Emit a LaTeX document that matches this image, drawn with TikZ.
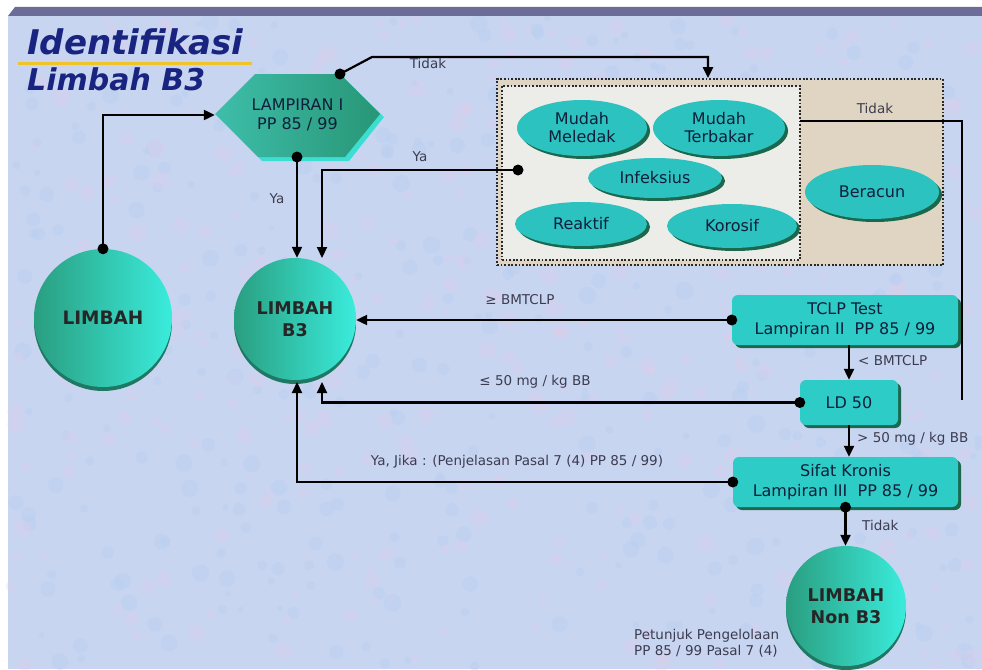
\documentclass[tikz,border=0pt]{standalone}
\usepackage{fontspec}
\setmainfont{DejaVu Sans}
\newfontfamily\titlefont{DejaVu Sans}
\usetikzlibrary{arrows.meta,shapes.geometric,shadows,calc}
\definecolor{bgc}{RGB}{200,213,240}
\definecolor{bgpink}{RGB}{226,206,234}
\definecolor{bgblue}{RGB}{180,206,242}
\definecolor{barc}{RGB}{108,108,152}
\definecolor{titc}{RGB}{24,36,128}
\definecolor{yelc}{RGB}{240,196,40}
\definecolor{boxc}{RGB}{46,204,198}
\definecolor{shc}{RGB}{28,104,78}
\definecolor{ellc}{RGB}{44,194,192}
\definecolor{ballL}{RGB}{42,158,128}
\definecolor{ballR}{RGB}{58,236,220}
\definecolor{ballS}{RGB}{30,120,100}
\definecolor{hexL}{RGB}{62,190,170}
\definecolor{hexR}{RGB}{40,150,118}
\definecolor{hexE}{RGB}{60,222,210}
\definecolor{txtc}{RGB}{16,30,60}
\definecolor{lblc}{RGB}{60,60,80}
\definecolor{panelc}{RGB}{236,236,232}
\definecolor{beigec}{RGB}{224,213,195}
\tikzset{
  conn/.style={line width=2.2pt, black, -{Triangle[length=11pt,width=10pt]}},
  plainline/.style={line width=2.2pt, black},
  dotline/.style={line width=1.8pt, draw={rgb,255:red,40;green,40;blue,40}, dash pattern=on 1.8pt off 1.8pt},
  lbl/.style={font=\fontsize{13.5}{16.5}\selectfont, text=lblc, inner sep=0pt},
  tbox/.style={rectangle, rounded corners=6pt, fill=boxc, drop shadow={shadow xshift=3pt, shadow yshift=-3pt, fill=shc, opacity=1}, font=\fontsize{16}{20}\selectfont, text=txtc, align=center, inner sep=0pt},
  ell/.style={ellipse, fill=ellc, drop shadow={shadow xshift=3pt, shadow yshift=-3pt, fill=shc, opacity=1}, font=\fontsize{16}{18}\selectfont, text=txtc, align=center, inner sep=0pt},
  ball/.style={circle, left color=ballL, right color=ballR, drop shadow={shadow xshift=0pt, shadow yshift=-4pt, fill=ballS, opacity=1}, font=\bfseries\fontsize{17.5}{22}\selectfont, text=black!85, align=center, inner sep=0pt},
  titletext/.style={anchor=base west, text=titc, inner sep=0pt},
}
\begin{document}
\begin{tikzpicture}[x=1pt,y=-1pt]
% page and background
\fill[white] (0,0) rectangle (982,669);
\useasboundingbox (0,0) rectangle (982,669);
\fill[bgc] (8,16) rectangle (982,669);
\pgfmathsetseed{11}
\foreach \i in {1,...,700}{
  \pgfmathsetmacro\px{10+970*rnd}
  \pgfmathsetmacro\py{18+650*rnd}
  \pgfmathsetmacro\pr{3+6*rnd}
  \ifodd\i
    \fill[bgpink, opacity=0.3] (\px,\py) circle (\pr);
  \else
    \fill[bgblue, opacity=0.3] (\px,\py) circle (\pr);
  \fi
}
\fill[barc] (8,16) -- (15,7) -- (982,7) -- (982,16) -- cycle;
% title
\node[titletext, font=\titlefont\bfseries\itshape\fontsize{34}{38}\selectfont] (titA) at (27,55) {Identifikasi};
\draw[line width=3pt, yelc] (18,64) -- (252,64);
\node[titletext, font=\titlefont\bfseries\itshape\fontsize{30}{34}\selectfont] (titB) at (27,90) {Limbah B3};
% dotted group
\node[dotline, fill=beigec, minimum width=446pt, minimum height=186pt, inner sep=0pt] (group) at (720,172) {};
\node[dotline, fill=panelc, minimum width=298pt, minimum height=174pt, inner sep=0pt] (panel) at (651,173) {};
\node[ell, minimum width=130pt, minimum height=56pt] (e1) at (582,128) {Mudah\\Meledak};
\node[ell, minimum width=132pt, minimum height=56pt] (e2) at (719,128) {Mudah\\Terbakar};
\node[ell, minimum width=134pt, minimum height=40pt] (e3) at (655,178) {Infeksius};
\node[ell, minimum width=132pt, minimum height=44pt] (e4) at (581,224) {Reaktif};
\node[ell, minimum width=130pt, minimum height=44pt] (e5) at (732,226) {Korosif};
\node[ell, minimum width=134pt, minimum height=54pt] (e6) at (872,192) {Beracun};
% hexagon
\fill[hexE] (219,117) -- (259,78) -- (344,78) -- (384,117) -- (349,161) -- (262,161) -- cycle;
\path[left color=hexL, right color=hexR] (215,114) -- (255,74) -- (340,74) -- (380,114) -- (345,157) -- (258,157) -- cycle;
\node[minimum width=165pt, minimum height=83pt, font=\fontsize{16}{19}\selectfont, text=txtc, align=center, inner sep=0pt] (hex) at (297.5,115) {LAMPIRAN I\\PP 85 / 99};
\coordinate (hexT) at (340,74);
\coordinate (hexB) at (297,157);
% balls
\node[ball, minimum size=138pt, font=\bfseries\fontsize{18.5}{22}\selectfont] (limbah) at (103,318) {LIMBAH};
\node[ball, minimum size=122pt] (b3) at (295,319) {LIMBAH\\B3};
\node[ball, minimum size=120pt] (nonb3) at (846,606) {LIMBAH\\Non B3};
% boxes
\node[tbox, minimum width=226pt, minimum height=50pt] (tclp) at (845,320) {TCLP Test\\Lampiran II\ \ PP 85 / 99};
\node[tbox, minimum width=98pt, minimum height=45pt] (ld) at (849,402.5) {LD 50};
\node[tbox, minimum width=225pt, minimum height=50pt] (sifat) at (845.5,482) {Sifat Kronis\\Lampiran III\ \ PP 85 / 99};
% named connector points
\coordinate (b3top2) at (322,258);
\coordinate (b3bot1) at (297,382);
\coordinate (b3bot2) at (322,382);
\coordinate (yaDot) at (518,170);
\coordinate (panelR) at (800,121);
\coordinate (tidakEnd) at (962,400);
% connectors
\fill (limbah.north) circle (5.5pt);
\draw[conn] (limbah.north) |- (hex.west);
\fill (hexT) circle (5.5pt);
\draw[conn] (hexT) -- (372,57) -- (708,57) -- (708,0 |- group.north);
\fill (hexB) circle (5.5pt);
\draw[conn] (hexB) -- (hexB |- b3.north);
\fill (yaDot) circle (5.5pt);
\draw[conn] (yaDot) -| (b3top2);
\draw[plainline] (panelR) -- (962,121) -- (tidakEnd);
\fill (tclp.west) circle (5.5pt);
\draw[conn] (tclp.west) -- (tclp.west -| b3.east);
\draw[conn] (ld.north |- tclp.south) -- (ld.north);
\fill (ld.west) circle (5.5pt);
\draw[conn] (ld.west) -| (b3bot2);
\draw[conn] (ld.south) -- (ld.south |- sifat.north);
\fill (sifat.west) circle (5.5pt);
\draw[conn] (sifat.west) -| (b3bot1);
\fill (sifat.south) circle (5.5pt);
\draw[conn] (sifat.south) -- (sifat.south |- nonb3.north);
% labels
\node[lbl] (lTidak1) at (428,63) {Tidak};
\node[lbl] (lYa1) at (277,199) {Ya};
\node[lbl] (lYa2) at (420,157) {Ya};
\node[lbl] (lTidak2) at (875,108) {Tidak};
\node[lbl] (lge) at (520,300) {≥ BMTCLP};
\node[lbl, anchor=west] (llt) at (858,361) {< BMTCLP};
\node[lbl] (lle) at (535,382) {≤ 50 mg / kg BB};
\node[lbl, anchor=west] (lgt) at (857,439) {> 50 mg / kg BB};
\node[lbl] (lyaj) at (517,462) {Ya, Jika : (Penjelasan Pasal 7 (4) PP 85 / 99)};
\node[lbl, anchor=west] (lTidak3) at (862,525) {Tidak};
\node[lbl, align=left, anchor=north west] (lpet) at (634,629) {Petunjuk Pengelolaan\\PP 85 / 99 Pasal 7 (4)};
\end{tikzpicture}
\end{document}
